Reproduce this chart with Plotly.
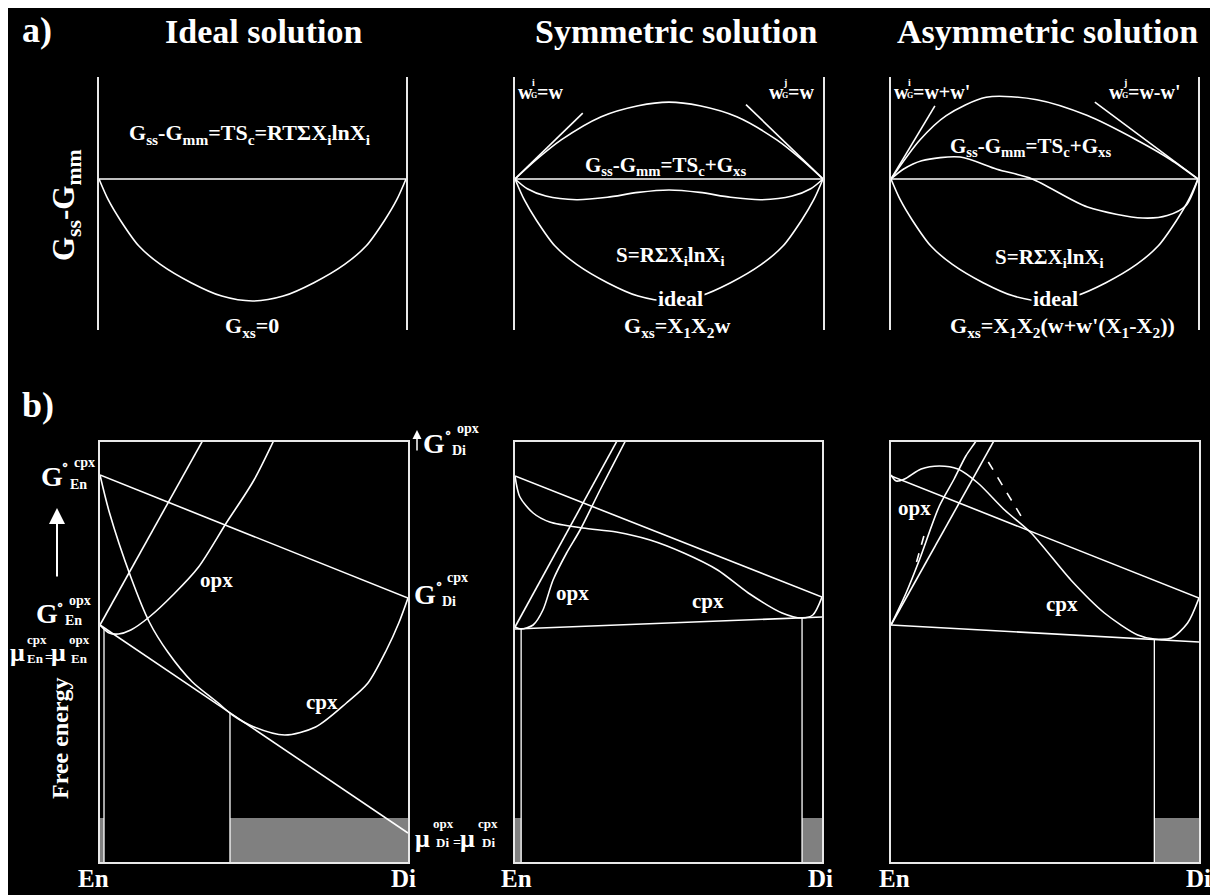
import plotly.graph_objects as go

# ------------------------------------------------------------
# a) mixing energy G_ss - G_mm, x = X(Di), y scaled to ideal minimum = -1
# ------------------------------------------------------------
X_MIX = [0, .03, .07, .13, .2, .3, .4, .5, .6, .7, .8, .87, .93, .97, 1]
G_IDEAL = [0, -.17, -.34, -.55, -.70, -.85, -.96, -1, -.96, -.85, -.70, -.55, -.34, -.17, 0]
X_ENDS = [0, 1]
G_ZERO = [0, 0]

# symmetric solution
X_SYM_XS = [0, .07, .15, .28, .4, .5, .6, .72, .85, .93, 1]
G_SYM_XS = [0, .16, .32, .51, .60, .63, .60, .51, .32, .16, 0]
X_SYM_SS = [0, .04, .1, .2, .3, .4, .5, .6, .7, .8, .9, .96, 1]
G_SYM_SS = [0, -.08, -.14, -.17, -.15, -.11, -.09, -.11, -.15, -.17, -.14, -.08, 0]
X_SYM_TAN = [0, .22, None, .75, 1]
G_SYM_TAN = [0, .54, None, .61, 0]

# asymmetric solution
X_ASY_XS = [0, .094, .18, .31, .475, .64, .8, .91, 1]
G_ASY_XS = [0, .32, .52, .67, .65, .52, .32, .16, 0]
X_ASY_SS = [0, .04, .1, .225, .345, .46, .64, .82, .9, .96, 1]
G_ASY_SS = [0, .08, .15, .18, .08, 0, -.23, -.32, -.30, -.22, 0]
X_ASY_TAN = [0, .143, None, .664, 1]
G_ASY_TAN = [0, .60, None, .63, 0]

# ------------------------------------------------------------
# b) free energy vs X(Di) (arbitrary units)
# ------------------------------------------------------------
GRAY_H = 0.44

# ideal
EN_CPX_1, DI_CPX_1 = 3.87, 2.64
EN_OPX_1, DI_OPX_1 = 2.37, 7.9
MU_EN_1, MU_DI_1 = 2.37, 0.29
XOPX_1, XCPX_1 = 0.013, 0.422
CPX_X_1 = [0, .03, .1, .16, .22, .3, .38, .43, .5, .6, .7, .8, .87, .93, .97, 1]
CPX_G_1 = [3.87, 3.5, 2.85, 2.40, 2.10, 1.80, 1.60, 1.47, 1.35, 1.27, 1.35, 1.59, 1.79, 2.12, 2.39, 2.64]
OPX_X_1 = [0, .03, .06, .1, .16, .24, .32, .41, .5, .6]
OPX_G_1 = [2.37, 2.29, 2.28, 2.32, 2.45, 2.68, 2.95, 3.39, 3.82, 4.45]

# symmetric
EN_CPX_2, DI_CPX_2 = 3.86, 2.65
EN_OPX_2, DI_OPX_2 = 2.35, 7.95
MU_EN_2, MU_DI_2 = 2.33, 2.45
XOPX_2, XCPX_2 = 0.02, 0.935
CPX_X_2 = [0, .016, .059, .113, .221, .33, .44, .55, .66, .76, .87, .935, .97, 1]
CPX_G_2 = [3.86, 3.65, 3.49, 3.40, 3.34, 3.30, 3.22, 3.09, 2.92, 2.69, 2.49, 2.44, 2.47, 2.65]
OPX_X_2 = [0, .02, .059, .091, .124, .168, .212, .277, .358, .4]
OPX_G_2 = [2.35, 2.33, 2.37, 2.52, 2.82, 3.09, 3.32, 3.72, 4.2, 4.45]

# asymmetric
EN_CPX_3, DI_CPX_3 = 3.86, 2.64
EN_OPX_3, DI_OPX_3 = 2.37, 7.88
MU_EN_3, MU_DI_3 = 2.37, 2.20
XOPX_3, XCPX_3 = 0.0, 0.855
CPX_X_3 = [0, .017, .044, .098, .157, .217, .282, .369, .455, .584, .693, .801, .855, .91, .963, 1]
CPX_G_3 = [3.87, 3.81, 3.83, 3.93, 3.96, 3.93, 3.79, 3.52, 3.29, 2.82, 2.49, 2.27, 2.23, 2.24, 2.39, 2.64]
OPX_X_3 = [0, .049, .092, .157, .205, .243, .274, .31]
OPX_G_3 = [2.37, 2.69, 3.02, 3.56, 3.83, 4.06, 4.2, 4.38]
DASH_X_3 = [.083, .114, None, .316, .424]
DASH_G_3 = [3.00, 3.34, None, 4.00, 3.45]

# ------------------------------------------------------------
# page geometry (pixels -> paper fractions)
# ------------------------------------------------------------
W, H, OFF = 1210, 887, 8
FONT = "Liberation Serif"
WHITE = "#ffffff"


def fx(p):
    return (p - OFF) / W


def fy(p):
    return 1 - (p - OFF) / H


fig = go.Figure()


def line(xs, ys, n, dash=None, spline=False, width=1.6):
    fig.add_trace(go.Scatter(
        x=xs, y=ys, xaxis="x%d" % n, yaxis="y%d" % n, mode="lines",
        line=dict(color=WHITE, width=width, dash=dash,
                  shape="spline" if spline else "linear", smoothing=0.8),
        hoverinfo="skip", showlegend=False, connectgaps=False))


def gray(x0, x1, n):
    fig.add_trace(go.Scatter(
        x=[x0, x1, x1, x0, x0], y=[0, 0, GRAY_H, GRAY_H, 0],
        xaxis="x%d" % n, yaxis="y%d" % n, mode="lines", fill="toself",
        fillcolor="#808080", line=dict(width=0, color="#808080"),
        hoverinfo="skip", showlegend=False))


# ---- a) top row
for n, xs_xs, g_xs, xs_ss, g_ss, tx, tg in [
    (2, X_SYM_XS, G_SYM_XS, X_SYM_SS, G_SYM_SS, X_SYM_TAN, G_SYM_TAN),
    (3, X_ASY_XS, G_ASY_XS, X_ASY_SS, G_ASY_SS, X_ASY_TAN, G_ASY_TAN),
]:
    line(xs_xs, g_xs, n, spline=True)
    line(xs_ss, g_ss, n, spline=True)
    line(tx, tg, n)
for n in (1, 2, 3):
    line(X_ENDS, G_ZERO, n)
    line(X_MIX, G_IDEAL, n, spline=True)

# ---- b) bottom row
panels_b = [
    (4, EN_CPX_1, DI_CPX_1, EN_OPX_1, DI_OPX_1, MU_EN_1, MU_DI_1, XOPX_1, XCPX_1,
     CPX_X_1, CPX_G_1, OPX_X_1, OPX_G_1),
    (5, EN_CPX_2, DI_CPX_2, EN_OPX_2, DI_OPX_2, MU_EN_2, MU_DI_2, XOPX_2, XCPX_2,
     CPX_X_2, CPX_G_2, OPX_X_2, OPX_G_2),
    (6, EN_CPX_3, DI_CPX_3, EN_OPX_3, DI_OPX_3, MU_EN_3, MU_DI_3, XOPX_3, XCPX_3,
     CPX_X_3, CPX_G_3, OPX_X_3, OPX_G_3),
]
for (n, ecpx, dcpx, eopx, dopx, muen, mudi, xo, xc, cx, cg, ox, og) in panels_b:
    if xo > 0:
        gray(0, xo, n)
    gray(xc, 1, n)
    line(X_ENDS, [ecpx, dcpx], n)
    line(X_ENDS, [eopx, dopx], n)
    line(X_ENDS, [muen, mudi], n)
    line(cx, cg, n, spline=True)
    line(ox, og, n, spline=True)
    if xo > 0:
        line([xo, xo], [0, muen + xo * (mudi - muen)], n, width=1.3)
    line([xc, xc], [0, muen + xc * (mudi - muen)], n, width=1.3)
line(DASH_X_3, DASH_G_3, 6, dash="dash")

# ---- axes
top_x = [(99, 406), (515, 823), (891, 1198)]
bot_x = [(100, 408), (515, 822), (891, 1199)]
axes = {}
for i, (a, b) in enumerate(top_x + bot_x):
    n = i + 1
    top = n <= 3
    y0, y1 = (77, 330) if top else (442, 862)
    key = "" if n == 1 else str(n)
    axes["xaxis" + key] = dict(
        domain=[fx(a), fx(b)], range=[0, 1], anchor="y" + key if key else "y",
        showgrid=False, zeroline=False, showticklabels=False, ticks="",
        showline=not top, mirror=True, linecolor="#e8e8e8", linewidth=2)
    axes["yaxis" + key] = dict(
        domain=[fy(y1), fy(y0)],
        range=[-1.238, 0.836] if top else [0, 4.2],
        anchor="x" + key if key else "x",
        showgrid=False, zeroline=False, showticklabels=False, ticks="",
        showline=True, mirror=True, linecolor="#e8e8e8", linewidth=2)

# ---- text
ann = []


def label(text, x, y, size, xanchor="center", angle=0, bg=None, yanchor="middle"):
    ann.append(dict(
        text=text, x=fx(x), y=fy(y), xref="paper", yref="paper",
        xanchor=xanchor, yanchor=yanchor, showarrow=False, textangle=angle,
        bgcolor=bg, borderpad=1,
        font=dict(family=FONT, size=size, color=WHITE, weight="bold")))


def wlabel(x, y, sup, tail):
    # w with stacked super/subscript, then the rest of the expression
    label("w", x, y, 20, xanchor="left")
    label(sup, x + 14, y - 10, 10, xanchor="left")
    label("G", x + 13, y + 3, 8, xanchor="left")
    label(tail, x + 19, y, 20, xanchor="left")


def arrow(x, y_head, y_tail, width, size):
    ann.append(dict(
        text="", x=fx(x), y=fy(y_head), xref="paper", yref="paper",
        ax=0, ay=y_tail - y_head, showarrow=True, arrowhead=2,
        arrowwidth=width, arrowsize=size, arrowcolor=WHITE))


label("a)", 37, 30, 36)
label("b)", 38, 405, 36)
label("Ideal solution", 264, 31, 34)
label("Symmetric solution", 676, 31, 34)
label("Asymmetric solution", 1047, 31, 34)

label("G<sub>ss</sub>-G<sub>mm</sub>", 66, 205, 31, angle=-90)
label("G<sub>ss</sub>-G<sub>mm</sub>=TS<sub>c</sub>=RTΣX<sub>i</sub>lnX<sub>i</sub>", 250, 134, 22)
wlabel(516, 92, "i", "=w")
wlabel(767, 92, "j", "=w")
label("G<sub>ss</sub>-G<sub>mm</sub>=TS<sub>c</sub>+G<sub>xs</sub>", 665, 166, 21)
label("S=RΣX<sub>i</sub>lnX<sub>i</sub>", 670, 256, 21)
label("ideal", 680, 298, 22, bg="black")
wlabel(892, 92, "i", "=w+w'")
wlabel(1107, 92, "j", "=w-w'")
label("G<sub>ss</sub>-G<sub>mm</sub>=TS<sub>c</sub>+G<sub>xs</sub>", 1030, 147, 21)
label("S=RΣX<sub>i</sub>lnX<sub>i</sub>", 1049, 258, 21)
label("ideal", 1055, 299, 22, bg="black")

label("G<sub>xs</sub>=0", 252, 327, 22)
label("G<sub>xs</sub>=X<sub>1</sub>X<sub>2</sub>w", 677, 327, 22)
label("G<sub>xs</sub>=X<sub>1</sub>X<sub>2</sub>(w+w'(X<sub>1</sub>-X<sub>2</sub>))", 1062, 327, 22)

# bottom row text
label("Free energy", 60, 738, 24, angle=-90)
arrow(57, 508, 578, 2, 1.6)

label("G", 52, 477, 28)
label("∘", 65, 464, 13)
label("cpx", 72, 462, 14, xanchor="left")
label("En", 68, 484, 14, xanchor="left")

label("G", 47, 613, 28)
label("∘", 60, 603, 13)
label("opx", 67, 600, 14, xanchor="left")
label("En", 63, 620, 14, xanchor="left")

label("μ", 17, 652, 26)
label("cpx", 25, 639, 13, xanchor="left")
label("En", 25, 658, 13, xanchor="left")
label("=", 49, 657, 14)
label("μ", 59, 652, 26)
label("opx", 67, 639, 13, xanchor="left")
label("En", 69, 658, 13, xanchor="left")

arrow(417, 430, 452, 1.5, 1.2)
label("G", 434, 443, 28)
label("∘", 448, 431, 13)
label("opx", 455, 428, 14, xanchor="left")
label("Di", 450, 450, 14, xanchor="left")

label("G", 425, 594, 28)
label("∘", 439, 582, 13)
label("cpx", 445, 577, 14, xanchor="left")
label("Di", 440, 601, 14, xanchor="left")

label("μ", 422, 838, 26)
label("opx", 431, 823, 13, xanchor="left")
label("Di", 434, 842, 13, xanchor="left")
label("=", 457, 842, 14)
label("μ", 467, 838, 26)
label("cpx", 476, 823, 13, xanchor="left")
label("Di", 480, 842, 13, xanchor="left")

label("opx", 216, 580, 21)
label("cpx", 322, 702, 21)
label("opx", 572, 593, 21)
label("cpx", 708, 601, 21)
label("opx", 914, 508, 21)
label("cpx", 1062, 604, 21)

for xl, xr in [(93, 403), (516, 820), (894, 1198)]:
    label("En", xl, 894, 25, yanchor="bottom")
    label("Di", xr, 894, 25, yanchor="bottom")

fig.update_layout(
    width=W, height=H, margin=dict(l=0, r=0, t=0, b=0),
    paper_bgcolor="black", plot_bgcolor="black",
    showlegend=False, annotations=ann, **axes)

fig.write_html("out.html")
